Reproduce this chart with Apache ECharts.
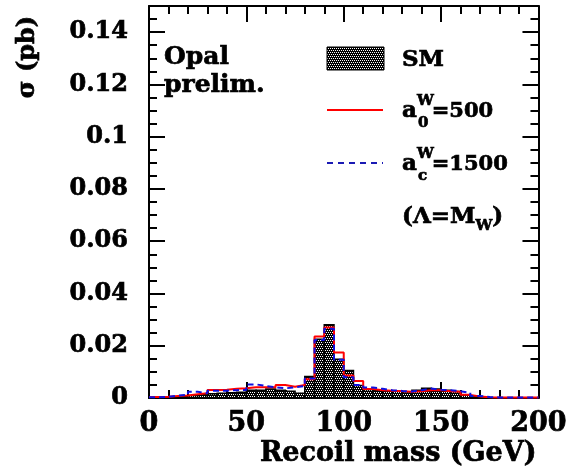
<!DOCTYPE html>
<html>
<head>
<meta charset="utf-8">
<script src="https://cdn.jsdelivr.net/npm/echarts@6/dist/echarts.min.js"></script>
<style>
  html, body { margin: 0; padding: 0; background: #fff; }
  #chart { width: 570px; height: 475px; }
</style>
</head>
<body>
<div id="chart"></div>
<script>
// Recoil-mass histograms: 40 bins of 5 GeV from 0 to 200 GeV, cross-section in pb
const binWidth = 5;
const binLow = [0, 5, 10, 15, 20, 25, 30, 35, 40, 45, 50, 55, 60, 65, 70, 75, 80, 85, 90, 95,
                100, 105, 110, 115, 120, 125, 130, 135, 140, 145, 150, 155, 160, 165, 170, 175, 180, 185, 190, 195];

// Standard Model expectation
const smValues = [0.0002, 0.0003, 0.0005, 0.0007, 0.0010, 0.0012, 0.0016, 0.0018, 0.0020, 0.0022,
                  0.0030, 0.0030, 0.0034, 0.0030, 0.0026, 0.0018, 0.0082, 0.0225, 0.0280, 0.0148,
                  0.0105, 0.0048, 0.0033, 0.0030, 0.0026, 0.0026, 0.0024, 0.0030, 0.0037, 0.0034,
                  0.0030, 0.0025, 0.0012, 0.0004, 0.0001, 0, 0, 0, 0, 0];

// Anomalous coupling a0^W = 500
const a0Values = [0.0004, 0.0005, 0.0008, 0.0010, 0.0014, 0.0018, 0.0031, 0.0032, 0.0035, 0.0037,
                  0.0041, 0.0041, 0.0041, 0.0050, 0.0043, 0.0050, 0.0072, 0.0235, 0.0270, 0.0174,
                  0.0086, 0.0065, 0.0034, 0.0030, 0.0028, 0.0026, 0.0024, 0.0026, 0.0030, 0.0030,
                  0.0026, 0.0024, 0.0012, 0.0006, 0.0003, 0.0002, 0.0002, 0.0002, 0.0002, 0.0002];

// Anomalous coupling ac^W = 1500
const acValues = [0.0003, 0.0005, 0.0009, 0.0012, 0.0024, 0.0018, 0.0028, 0.0028, 0.0030, 0.0031,
                  0.0052, 0.0046, 0.0041, 0.0037, 0.0041, 0.0046, 0.0075, 0.0222, 0.0265, 0.0146,
                  0.0079, 0.0050, 0.0040, 0.0035, 0.0030, 0.0027, 0.0025, 0.0030, 0.0036, 0.0032,
                  0.0030, 0.0026, 0.0020, 0.0008, 0.0004, 0.0002, 0.0002, 0.0002, 0.0002, 0.0002];

const xTickLabels = ['0', '50', '100', '150', '200'];
const yTickLabels = ['0', '0.02', '0.04', '0.06', '0.08', '0.1', '0.12', '0.14'];

const FONT = '"DejaVu Serif", "Liberation Serif", serif';
const HEAVY = 0.7; // extra outline to thicken the bold glyphs

// Dense checkered fill used for the SM histogram
function makeChecker() {
  const c = document.createElement('canvas');
  c.width = 4; c.height = 4;
  const g = c.getContext('2d');
  g.fillStyle = '#000';
  g.fillRect(0, 0, 4, 4);
  g.fillStyle = '#fff';
  [[0, 0], [2, 0], [1, 2], [3, 2]].forEach(p => g.fillRect(p[0], p[1], 1, 1));
  return c;
}
const checker = makeChecker();
const smFill = { image: checker, repeat: 'repeat' };

// Step outline points for a binned series
function stepPoints(values) {
  const pts = [];
  values.forEach((v, i) => {
    pts.push([binLow[i], v]);
    pts.push([binLow[i] + binWidth, v]);
  });
  return pts;
}

// Text measurement for legend runs with sub/superscripts
const measureCtx = document.createElement('canvas').getContext('2d');
function textWidth(str, size) {
  measureCtx.font = 'bold ' + size + 'px ' + FONT;
  return measureCtx.measureText(str).width;
}
function textEl(str, x, y, size) {
  return {
    type: 'text', x: x, y: y, silent: true,
    style: {
      text: str, font: 'bold ' + size + 'px ' + FONT, fill: '#000',
      stroke: '#000', lineWidth: HEAVY, verticalAlign: 'middle'
    }
  };
}
// Symbol with stacked superscript/subscript followed by the rest of the label
function scriptLabel(x, y, base, sup, sub, rest, size, small, restSize) {
  const els = [];
  els.push(textEl(base, x, y, size));
  let cx = x + textWidth(base, size);
  if (sup) els.push(textEl(sup, cx, y - 10, small));
  if (sub) els.push(textEl(sub, cx + 1, y + 12, small));
  cx += Math.max(sup ? textWidth(sup, small) : 0, sub ? textWidth(sub, small) : 0);
  els.push(textEl(rest, cx - 2, y + 1, restSize));
  return els;
}

const legendX = 327, textX = 402, legSize = 23, legSmall = 15, legNum = 21;
const graphics = [
  // SM box
  { type: 'rect', shape: { x: legendX, y: 47, width: 57, height: 23 }, style: { fill: smFill, stroke: '#000', lineWidth: 1 }, silent: true },
  textEl('SM', textX, 60, legSize),
  // a0 line
  { type: 'line', shape: { x1: legendX, y1: 110, x2: legendX + 56, y2: 110 }, style: { stroke: '#ff0000', lineWidth: 2 }, silent: true },
  // ac dashed line
  { type: 'line', shape: { x1: legendX, y1: 163, x2: legendX + 56, y2: 163 }, style: { stroke: '#1a1ab4', lineWidth: 2, lineDash: [6, 5] }, silent: true },
  // experiment tag
  textEl('Opal', 164, 57, 25),
  textEl('prelim.', 164, 85, 25),
  // y-axis title, reading upwards
  {
    type: 'text', x: 28, y: 57, rotation: Math.PI / 2, silent: true,
    style: {
      text: 'σ (pb)', font: 'bold 24px ' + FONT, fill: '#000', stroke: '#000', lineWidth: HEAVY,
      align: 'center', verticalAlign: 'middle'
    }
  }
];
graphics.push(...scriptLabel(textX, 111, 'a', 'W', '0', '=500', legSize, legSmall, legNum));
graphics.push(...scriptLabel(textX, 164, 'a', 'W', 'c', '=1500', legSize, legSmall, legNum));
// (Λ=M_W)
(function () {
  const y = 217;
  const first = '(Λ=M';
  const w1 = textWidth(first, legSize);
  graphics.push(textEl(first, textX, y, legSize));
  graphics.push(textEl('W', textX + w1, y + 9, legSmall));
  graphics.push(textEl(')', textX + w1 + textWidth('W', legSmall), y, legSize));
})();

const axisLineStyle = { color: '#000', width: 2 };
const labelFont = { fontFamily: FONT, fontWeight: 'bold', color: '#000', textBorderColor: '#000', textBorderWidth: HEAVY };

function xAxisDef(pos, withLabels) {
  return {
    type: 'value', position: pos, min: 0, max: 200, interval: 50,
    axisLine: { show: true, onZero: false, lineStyle: axisLineStyle },
    axisTick: { show: true, inside: true, length: 16, lineStyle: { color: '#000', width: 2 } },
    minorTick: { show: true, splitNumber: 5, length: 8, lineStyle: { color: '#000', width: 2 } },
    splitLine: { show: false }, minorSplitLine: { show: false },
    axisLabel: withLabels ? Object.assign({
      show: true, fontSize: 27, margin: 12,
      formatter: v => xTickLabels[Math.round(v / 50)]
    }, labelFont) : { show: false }
  };
}
function yAxisDef(pos, interval, tickLen, withLabels, withLine) {
  return {
    type: 'value', position: pos, min: 0, max: 0.15, interval: interval,
    axisLine: { show: withLine, onZero: false, lineStyle: axisLineStyle },
    axisTick: { show: true, inside: true, length: tickLen, lineStyle: { color: '#000', width: 2 } },
    splitLine: { show: false },
    axisLabel: withLabels ? Object.assign({
      show: true, fontSize: 24, margin: 21, showMaxLabel: false,
      formatter: v => yTickLabels[Math.round(v / 0.02)] || ''
    }, labelFont) : { show: false }
  };
}

const xAxes = [xAxisDef('bottom', true), xAxisDef('top', false)];
xAxes[0].name = 'Recoil mass (GeV)';
xAxes[0].nameLocation = 'end';
xAxes[0].nameGap = -2;
xAxes[0].nameTextStyle = Object.assign({ fontSize: 27, align: 'right', verticalAlign: 'top', padding: [42, 0, 0, 0] }, labelFont);

const option = {
  animation: false,
  backgroundColor: '#fff',
  grid: { left: 149, right: 30, top: 6, bottom: 77, containLabel: false },
  xAxis: xAxes,
  yAxis: [
    yAxisDef('left', 0.02, 16, true, true),
    yAxisDef('left', 0.005, 8, false, false),
    yAxisDef('right', 0.02, 16, false, true),
    yAxisDef('right', 0.005, 8, false, false)
  ],
  series: [
    {
      name: 'SM', type: 'custom', xAxisIndex: 0, yAxisIndex: 0, z: 2,
      data: smValues.map((v, i) => [binLow[i], binLow[i] + binWidth, v]),
      encode: { x: [0, 1], y: 2 },
      renderItem: function (params, api) {
        const v = api.value(2);
        if (!(v > 0)) return null;
        const p0 = api.coord([api.value(0), v]);
        const p1 = api.coord([api.value(1), 0]);
        return {
          type: 'rect',
          shape: { x: p0[0], y: p0[1], width: p1[0] - p0[0], height: p1[1] - p0[1] },
          style: { fill: smFill, stroke: '#000', lineWidth: 1.5 }
        };
      }
    },
    {
      name: 'a0W=500', type: 'line', xAxisIndex: 0, yAxisIndex: 0, z: 3,
      data: stepPoints(a0Values), showSymbol: false, symbol: 'none',
      lineStyle: { color: '#ff0000', width: 2 }
    },
    {
      name: 'acW=1500', type: 'line', xAxisIndex: 0, yAxisIndex: 0, z: 4,
      data: stepPoints(acValues), showSymbol: false, symbol: 'none',
      lineStyle: { color: '#1010e0', width: 2, type: [6, 4] }
    }
  ],
  graphic: graphics
};

const chart = echarts.init(document.getElementById('chart'), null, { renderer: 'canvas' });
chart.setOption(option);
</script>
</body>
</html>
